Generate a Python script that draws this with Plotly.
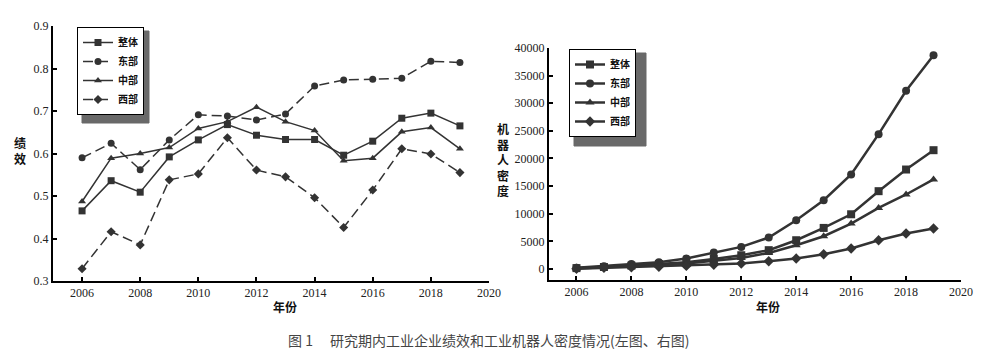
import plotly.graph_objects as go

years = [2006, 2007, 2008, 2009, 2010, 2011, 2012, 2013, 2014, 2015, 2016, 2017, 2018, 2019]
series_names = ["整体", "东部", "中部", "西部"]

# Left chart: performance (绩效)
perf_total = [0.465, 0.536, 0.509, 0.592, 0.632, 0.668, 0.643, 0.633, 0.633, 0.596, 0.629, 0.683, 0.695, 0.665]
perf_east = [0.590, 0.624, 0.562, 0.632, 0.691, 0.688, 0.679, 0.693, 0.759, 0.773, 0.775, 0.777, 0.817, 0.814]
perf_central = [0.487, 0.589, 0.600, 0.614, 0.659, 0.675, 0.709, 0.675, 0.654, 0.583, 0.589, 0.651, 0.661, 0.611]
perf_west = [0.329, 0.416, 0.385, 0.538, 0.552, 0.637, 0.561, 0.545, 0.496, 0.426, 0.514, 0.611, 0.599, 0.555]

# Right chart: robot density (机器人密度)
dens_total = [150, 350, 600, 900, 1200, 1800, 2480, 3400, 5200, 7430, 9900, 14080, 18000, 21500]
dens_east = [200, 500, 900, 1200, 1900, 3000, 3990, 5690, 8820, 12450, 17100, 24400, 32250, 38700]
dens_central = [100, 300, 500, 800, 1000, 1500, 2000, 2900, 4290, 5920, 8220, 11050, 13480, 16200]
dens_west = [50, 200, 300, 400, 550, 750, 980, 1400, 1880, 2660, 3690, 5200, 6410, 7320]

x_ticks = [2006, 2008, 2010, 2012, 2014, 2016, 2018, 2020]
left_y_ticks = [0.3, 0.4, 0.5, 0.6, 0.7, 0.8, 0.9]
right_y_ticks = [0, 5000, 10000, 15000, 20000, 25000, 30000, 35000, 40000]

symbols = ["square", "circle", "triangle-up", "diamond"]
left_dash = ["solid", "10px,5px", "solid", "10px,5px"]
INK = "#333333"
W, H = 982, 354

fig = go.Figure()

for name, vals, sym, dash in zip(series_names, [perf_total, perf_east, perf_central, perf_west], symbols, left_dash):
    fig.add_trace(go.Scatter(
        x=years, y=vals, name=name, mode="lines+markers",
        line=dict(color=INK, width=1.5, dash=dash),
        marker=dict(symbol=sym, size=7, color=INK),
        xaxis="x", yaxis="y", legend="legend",
    ))

for name, vals, sym in zip(series_names, [dens_total, dens_east, dens_central, dens_west], symbols):
    fig.add_trace(go.Scatter(
        x=years, y=vals, name=name, mode="lines+markers",
        line=dict(color=INK, width=2.5),
        marker=dict(symbol=sym, size=8, color=INK),
        xaxis="x2", yaxis="y2", legend="legend2",
    ))

tickfont = dict(family="Liberation Serif", size=12, color="#222")
axis_common = dict(showgrid=False, zeroline=False, showline=True, linecolor="black", linewidth=2,
                   ticks="inside", ticklen=4, tickwidth=2, tickcolor="black", tickfont=tickfont,
                   automargin=False)

legend_font = dict(family="Noto Sans CJK SC", size=10, color="#111", weight="bold")

fig.update_layout(
    template="none",
    width=W, height=H,
    margin=dict(l=0, r=0, t=0, b=0, pad=0),
    paper_bgcolor="white", plot_bgcolor="white",
    xaxis=dict(domain=[53 / W, 489 / W], range=[2005, 2020], tickvals=x_ticks, anchor="y", **axis_common),
    yaxis=dict(domain=[73 / H, 328 / H], range=[0.3, 0.9], tickvals=left_y_ticks, tickformat=".1f", anchor="x", **axis_common),
    xaxis2=dict(domain=[549 / W, 961 / W], range=[2005, 2020], tickvals=x_ticks, anchor="y2", **axis_common),
    yaxis2=dict(domain=[74 / H, 306 / H], range=[-2000, 40000], tickvals=right_y_ticks, tickformat="d", anchor="x2", **axis_common),
    legend=dict(x=77 / W, y=1 - 27 / H, xanchor="left", yanchor="top", bgcolor="white",
                bordercolor="black", borderwidth=1, itemwidth=30, tracegroupgap=0, font=legend_font),
    legend2=dict(x=569 / W, y=1 - 49 / H, xanchor="left", yanchor="top", bgcolor="white",
                 bordercolor="black", borderwidth=1, itemwidth=30, tracegroupgap=0, font=legend_font),
    showlegend=True,
)

cjk_bold = dict(family="Noto Sans CJK SC", size=12, color="#111", weight="bold")
ann_common = dict(xref="paper", yref="paper", showarrow=False, xanchor="center", yanchor="middle")
annotations = [
    dict(text="绩<br>效", x=20 / W, y=1 - 150 / H, font=cjk_bold, align="center", **ann_common),
    dict(text="机<br>器<br>人<br>密<br>度", x=503 / W, y=1 - 159 / H, font=cjk_bold, align="center", **ann_common),
    dict(text="年份", x=285 / W, y=1 - 306 / H, font=cjk_bold, **ann_common),
    dict(text="年份", x=768 / W, y=1 - 306 / H, font=cjk_bold, **ann_common),
    dict(text="图 1　 研究期内工业企业绩效和工业机器人密度情况(左图、右图)", x=489 / W, y=1 - 340 / H,
         font=dict(family="Noto Sans CJK SC", size=14, color="#444"), **ann_common),
]
fig.update_layout(annotations=annotations)

# legend drop shadows (drawn as paper-referenced rectangles behind the legend boxes)
SHADOW = "rgb(105,105,105)"
shadow_boxes = [(82, 31, 149, 123), (574, 53, 646, 146)]
for x0, y0, x1, y1 in shadow_boxes:
    fig.add_shape(type="rect", xref="paper", yref="paper",
                  x0=x0 / W, x1=x1 / W, y0=1 - y1 / H, y1=1 - y0 / H,
                  fillcolor=SHADOW, opacity=1, line=dict(color=SHADOW, width=1), layer="above")

fig.write_html("out.html")
